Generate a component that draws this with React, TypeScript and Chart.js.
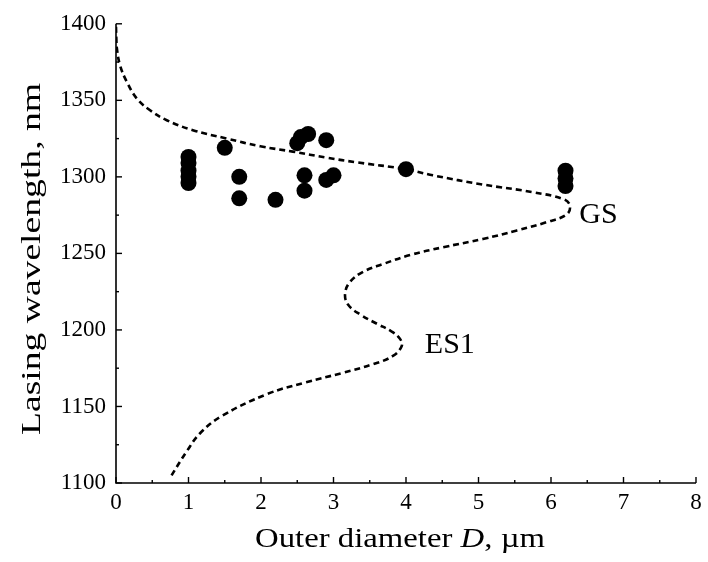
import React, { useEffect, useRef } from "react";
import { Chart, registerables } from "chart.js";
Chart.register(...registerables);

// Measured lasing wavelengths (points)
const measuredD = [1.0, 1.0, 1.0, 1.0, 1.0, 1.5, 1.7, 1.7, 2.2, 2.5, 2.55, 2.65, 2.6, 2.6, 2.9, 2.9, 3.0, 4.0, 6.2, 6.2, 6.2];
const measuredLambda = [1313, 1309, 1304, 1300, 1296, 1319, 1300, 1286, 1285, 1322, 1326, 1328, 1301, 1291, 1324, 1298, 1301, 1305, 1304, 1299, 1294];

// Calculated GS / ES1 curve (dashed), ordered along the curve
const curveD = [0.0, 0.005, 0.012, 0.055, 0.15, 0.29, 0.47, 0.7, 1.06, 1.53, 1.99, 2.44, 2.91, 3.32, 4.0, 4.37, 5.06, 5.75, 6.17, 6.26, 6.22, 5.94, 5.53, 5.06, 4.51, 4.06, 3.68, 3.41, 3.23, 3.16, 3.2, 3.37, 3.6, 3.8, 3.92, 3.94, 3.82, 3.55, 3.13, 2.6, 2.08, 1.45, 1.16, 0.98, 0.74];
const curveLambda = [1398, 1390, 1384, 1373, 1362, 1351, 1343.5, 1337, 1330.5, 1325, 1320, 1316.5, 1312.5, 1309.5, 1305, 1301, 1295, 1290, 1285.5, 1281.4, 1275.6, 1270.4, 1265, 1259.4, 1254, 1249, 1243, 1238, 1231.5, 1223.7, 1216.6, 1210, 1204, 1199, 1194, 1189.4, 1183, 1177.7, 1172, 1165.5, 1158, 1143.5, 1132.5, 1121, 1103];

const stateLabels = ["GS", "ES1"];
const stateLabelD = [6.39, 4.26];
const stateLabelLambda = [1275, 1190];

const xMin = 0, xMax = 8, xStep = 1, xMinorStep = 0.5;
const yMin = 1100, yMax = 1400, yStep = 50, yMinorStep = 25;

const xTitleParts = [
  { text: "Outer diameter ", italic: false },
  { text: "D", italic: true },
  { text: ", \u00b5m", italic: false },
];
const yTitle = "Lasing wavelength, nm";

const FONT = '"Liberation Serif", "Times New Roman", serif';

const decorPlugin = {
  id: "decor",
  afterDraw(chart: any) {
    const ctx = chart.ctx as CanvasRenderingContext2D;
    const xs = chart.scales.x;
    const ys = chart.scales.y;
    const left = xs.left;
    const right = xs.right;
    const top = ys.top;
    const bottom = ys.bottom;
    ctx.save();
    ctx.strokeStyle = "#000";
    ctx.lineWidth = 1.6;
    ctx.beginPath();
    ctx.moveTo(left, top);
    ctx.lineTo(left, bottom);
    ctx.lineTo(right, bottom);
    ctx.stroke();
    ctx.lineWidth = 1.4;
    for (let v = xMin; v <= xMax + 1e-9; v += xMinorStep) {
      const px = xs.getPixelForValue(v);
      const major = Math.abs(v - Math.round(v / xStep) * xStep) < 1e-6;
      ctx.beginPath();
      ctx.moveTo(px, bottom);
      ctx.lineTo(px, bottom - (major ? 6 : 3));
      ctx.stroke();
    }
    for (let v = yMin; v <= yMax + 1e-9; v += yMinorStep) {
      const py = ys.getPixelForValue(v);
      const major = Math.abs(v - Math.round(v / yStep) * yStep) < 1e-6;
      ctx.beginPath();
      ctx.moveTo(left, py);
      ctx.lineTo(left + (major ? 6 : 3), py);
      ctx.stroke();
    }
    ctx.fillStyle = "#000";
    ctx.font = `30px ${FONT}`;
    ctx.textAlign = "left";
    ctx.textBaseline = "middle";
    stateLabels.forEach((t, i) => {
      ctx.fillText(t, xs.getPixelForValue(stateLabelD[i]), ys.getPixelForValue(stateLabelLambda[i]));
    });
    const fs = 28;
    const fontN = `${fs}px ${FONT}`;
    const fontI = `italic ${fs}px ${FONT}`;
    let total = 0;
    const widths = xTitleParts.map((p) => {
      ctx.font = p.italic ? fontI : fontN;
      const w = ctx.measureText(p.text).width;
      total += w;
      return w;
    });
    const targetW = 290;
    const sx = targetW / total;
    const cx = (left + right) / 2 - 6;
    ctx.save();
    ctx.translate(cx - targetW / 2, 540);
    ctx.scale(sx, 1);
    let xx = 0;
    ctx.textAlign = "left";
    ctx.textBaseline = "middle";
    xTitleParts.forEach((p, i) => {
      ctx.font = p.italic ? fontI : fontN;
      ctx.fillText(p.text, xx, 0);
      xx += widths[i];
    });
    ctx.restore();
    ctx.save();
    ctx.font = fontN;
    const wy = ctx.measureText(yTitle).width;
    const targetWy = 352;
    ctx.translate(33, 259);
    ctx.rotate(-Math.PI / 2);
    ctx.scale(targetWy / wy, 1);
    ctx.textAlign = "center";
    ctx.textBaseline = "middle";
    ctx.fillText(yTitle, 0, 0);
    ctx.restore();
    ctx.restore();
  },
};

export default function App() {
  const ref = useRef<HTMLCanvasElement | null>(null);
  useEffect(() => {
    document.body.style.margin = "0";
    const canvas = ref.current!;
    const chart = new Chart(canvas, {
      type: "scatter",
      data: {
        datasets: [
          {
            label: "calc",
            data: curveD.map((d, i) => ({ x: d, y: curveLambda[i] })),
            showLine: true,
            borderColor: "#000",
            borderWidth: 2.6,
            borderDash: [6, 4],
            pointRadius: 0,
            tension: 0.4,
            fill: false,
            order: 2,
          },
          {
            label: "exp",
            data: measuredD.map((d, i) => ({ x: d, y: measuredLambda[i] })),
            backgroundColor: "#000",
            borderColor: "#000",
            pointRadius: 8,
            pointBorderWidth: 0,
            order: 1,
          },
        ],
      },
      options: {
        responsive: false,
        animation: false,
        devicePixelRatio: 1,
        layout: { padding: { top: 20, right: 12, left: 0, bottom: 0 } },
        plugins: { legend: { display: false }, tooltip: { enabled: false } },
        scales: {
          x: {
            type: "linear",
            min: xMin,
            max: xMax,
            grid: { display: false, drawTicks: false },
            border: { display: false },
            ticks: { stepSize: xStep, color: "#000", font: { family: FONT, size: 23 }, padding: 6, maxRotation: 0, callback: (v: any) => String(v) },
            afterFit: (s: any) => { s.height = 79; },
          },
          y: {
            type: "linear",
            min: yMin,
            max: yMax,
            grid: { display: false, drawTicks: false },
            border: { display: false },
            ticks: { stepSize: yStep, color: "#000", font: { family: FONT, size: 23 }, padding: 10, callback: (v: any) => String(v) },
            afterFit: (s: any) => { s.width = 116; },
          },
        },
      },
      plugins: [decorPlugin],
    });
    return () => chart.destroy();
  }, []);
  return (
    <div style={{ position: "absolute", left: 0, top: 0, width: 708, height: 562, background: "#fff" }}>
      <canvas ref={ref} width={708} height={562} style={{ display: "block" }} />
    </div>
  );
}
